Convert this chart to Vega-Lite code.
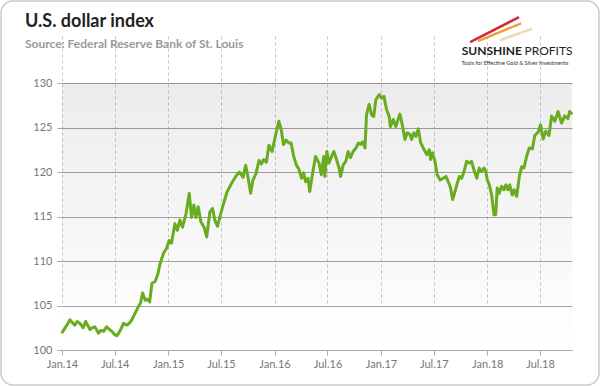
{
  "$schema": "https://vega.github.io/schema/vega-lite/v6.json",
  "width": 598,
  "height": 384,
  "padding": 1,
  "autosize": {"type": "none"},
  "background": "white",
  "config": {
    "view": {"stroke": "#cccccc", "strokeWidth": 1.5, "cornerRadius": 12, "fill": "white"},
    "font": "Lato"
  },
  "title": {
    "text": "U.S. dollar index",
    "subtitle": "Source: Federal Reserve Bank of St. Louis",
    "anchor": "start",
    "frame": "group",
    "orient": "top",
    "offset": -49,
    "dx": 24,
    "font": "Lato",
    "fontSize": 18,
    "fontWeight": "bold",
    "color": "#222222",
    "subtitleFont": "Lato",
    "subtitleFontSize": 12,
    "subtitleFontWeight": "bold",
    "subtitleColor": "#999999",
    "subtitlePadding": 8
  },
  "datasets": {
    "usd": [
      {"date": "2014-01-02", "value": 102.0},
      {"date": "2014-01-10", "value": 102.4},
      {"date": "2014-01-20", "value": 102.9},
      {"date": "2014-01-28", "value": 103.4},
      {"date": "2014-02-05", "value": 103.1},
      {"date": "2014-02-14", "value": 102.8},
      {"date": "2014-02-22", "value": 103.2},
      {"date": "2014-03-03", "value": 103.0},
      {"date": "2014-03-15", "value": 102.5},
      {"date": "2014-03-23", "value": 103.2},
      {"date": "2014-03-30", "value": 102.8},
      {"date": "2014-04-07", "value": 102.3},
      {"date": "2014-04-15", "value": 102.5},
      {"date": "2014-04-24", "value": 102.6},
      {"date": "2014-05-06", "value": 101.9},
      {"date": "2014-05-15", "value": 102.2},
      {"date": "2014-05-24", "value": 102.1},
      {"date": "2014-06-03", "value": 102.6},
      {"date": "2014-06-15", "value": 102.25},
      {"date": "2014-06-24", "value": 102.0},
      {"date": "2014-07-02", "value": 101.7},
      {"date": "2014-07-08", "value": 101.6},
      {"date": "2014-07-14", "value": 101.85},
      {"date": "2014-07-22", "value": 102.3},
      {"date": "2014-07-31", "value": 103.0},
      {"date": "2014-08-12", "value": 102.8},
      {"date": "2014-08-20", "value": 103.0},
      {"date": "2014-08-29", "value": 103.4},
      {"date": "2014-09-10", "value": 104.2},
      {"date": "2014-09-21", "value": 104.9},
      {"date": "2014-09-28", "value": 105.3},
      {"date": "2014-10-05", "value": 106.4},
      {"date": "2014-10-14", "value": 105.6},
      {"date": "2014-10-22", "value": 105.7},
      {"date": "2014-10-29", "value": 105.4},
      {"date": "2014-11-06", "value": 107.5},
      {"date": "2014-11-17", "value": 107.7},
      {"date": "2014-11-26", "value": 108.5},
      {"date": "2014-12-04", "value": 109.7},
      {"date": "2014-12-16", "value": 110.9},
      {"date": "2014-12-26", "value": 111.4},
      {"date": "2015-01-04", "value": 112.3},
      {"date": "2015-01-12", "value": 112.0},
      {"date": "2015-01-24", "value": 114.2},
      {"date": "2015-02-01", "value": 113.45},
      {"date": "2015-02-10", "value": 114.6},
      {"date": "2015-02-19", "value": 113.8},
      {"date": "2015-03-03", "value": 115.3},
      {"date": "2015-03-14", "value": 117.6},
      {"date": "2015-03-22", "value": 114.9},
      {"date": "2015-03-30", "value": 116.3},
      {"date": "2015-04-06", "value": 114.9},
      {"date": "2015-04-14", "value": 116.1},
      {"date": "2015-04-23", "value": 114.4},
      {"date": "2015-05-04", "value": 113.8},
      {"date": "2015-05-13", "value": 112.7},
      {"date": "2015-05-24", "value": 115.5},
      {"date": "2015-06-02", "value": 115.9},
      {"date": "2015-06-10", "value": 114.6},
      {"date": "2015-06-19", "value": 113.9},
      {"date": "2015-06-27", "value": 114.9},
      {"date": "2015-07-06", "value": 116.0},
      {"date": "2015-07-22", "value": 117.75},
      {"date": "2015-08-06", "value": 118.7},
      {"date": "2015-08-23", "value": 119.6},
      {"date": "2015-09-03", "value": 120.0},
      {"date": "2015-09-15", "value": 119.4},
      {"date": "2015-09-24", "value": 120.75},
      {"date": "2015-10-02", "value": 119.4},
      {"date": "2015-10-11", "value": 117.6},
      {"date": "2015-10-19", "value": 119.1},
      {"date": "2015-10-29", "value": 119.8},
      {"date": "2015-11-09", "value": 121.3},
      {"date": "2015-11-17", "value": 120.9},
      {"date": "2015-11-25", "value": 121.4},
      {"date": "2015-12-04", "value": 121.1},
      {"date": "2015-12-13", "value": 123.0},
      {"date": "2015-12-24", "value": 122.3},
      {"date": "2016-01-05", "value": 124.2},
      {"date": "2016-01-16", "value": 125.7},
      {"date": "2016-01-24", "value": 124.75},
      {"date": "2016-02-01", "value": 123.1},
      {"date": "2016-02-10", "value": 123.6},
      {"date": "2016-02-19", "value": 123.25},
      {"date": "2016-02-27", "value": 123.25},
      {"date": "2016-03-07", "value": 121.75},
      {"date": "2016-03-16", "value": 120.8},
      {"date": "2016-03-25", "value": 120.3},
      {"date": "2016-04-03", "value": 119.3},
      {"date": "2016-04-10", "value": 119.9},
      {"date": "2016-04-17", "value": 118.9},
      {"date": "2016-04-25", "value": 119.3},
      {"date": "2016-05-01", "value": 117.8},
      {"date": "2016-05-10", "value": 119.7},
      {"date": "2016-05-21", "value": 121.75},
      {"date": "2016-06-02", "value": 121.0},
      {"date": "2016-06-10", "value": 119.7},
      {"date": "2016-06-18", "value": 121.75},
      {"date": "2016-06-22", "value": 119.5},
      {"date": "2016-06-29", "value": 122.3},
      {"date": "2016-07-06", "value": 121.0},
      {"date": "2016-07-15", "value": 121.75},
      {"date": "2016-07-23", "value": 122.3},
      {"date": "2016-08-01", "value": 121.4},
      {"date": "2016-08-10", "value": 120.45},
      {"date": "2016-08-15", "value": 119.5},
      {"date": "2016-08-24", "value": 120.8},
      {"date": "2016-09-02", "value": 121.2},
      {"date": "2016-09-10", "value": 122.3},
      {"date": "2016-09-18", "value": 121.6},
      {"date": "2016-09-27", "value": 122.3},
      {"date": "2016-10-07", "value": 122.7},
      {"date": "2016-10-15", "value": 123.25},
      {"date": "2016-10-23", "value": 123.1},
      {"date": "2016-10-30", "value": 123.4},
      {"date": "2016-11-07", "value": 122.7},
      {"date": "2016-11-12", "value": 126.4},
      {"date": "2016-11-21", "value": 127.6},
      {"date": "2016-11-30", "value": 126.4},
      {"date": "2016-12-07", "value": 126.25},
      {"date": "2016-12-14", "value": 128.1},
      {"date": "2016-12-26", "value": 128.7},
      {"date": "2017-01-03", "value": 128.3},
      {"date": "2017-01-11", "value": 128.5},
      {"date": "2017-01-20", "value": 127.0},
      {"date": "2017-01-29", "value": 126.25},
      {"date": "2017-02-02", "value": 125.1},
      {"date": "2017-02-12", "value": 125.9},
      {"date": "2017-02-21", "value": 125.1},
      {"date": "2017-03-04", "value": 126.25},
      {"date": "2017-03-07", "value": 126.5},
      {"date": "2017-03-16", "value": 125.15},
      {"date": "2017-03-24", "value": 123.65},
      {"date": "2017-04-01", "value": 124.4},
      {"date": "2017-04-11", "value": 124.2},
      {"date": "2017-04-16", "value": 123.65},
      {"date": "2017-04-24", "value": 124.4},
      {"date": "2017-05-01", "value": 124.0},
      {"date": "2017-05-09", "value": 124.85},
      {"date": "2017-05-17", "value": 123.3},
      {"date": "2017-05-26", "value": 122.7},
      {"date": "2017-06-07", "value": 121.95},
      {"date": "2017-06-16", "value": 122.5},
      {"date": "2017-06-20", "value": 121.4},
      {"date": "2017-06-27", "value": 122.15},
      {"date": "2017-07-05", "value": 121.2},
      {"date": "2017-07-13", "value": 119.7},
      {"date": "2017-07-23", "value": 119.1},
      {"date": "2017-08-03", "value": 119.3},
      {"date": "2017-08-12", "value": 119.5},
      {"date": "2017-08-20", "value": 118.9},
      {"date": "2017-08-28", "value": 118.2},
      {"date": "2017-09-04", "value": 116.9},
      {"date": "2017-09-12", "value": 117.8},
      {"date": "2017-09-20", "value": 118.75},
      {"date": "2017-09-27", "value": 119.5},
      {"date": "2017-10-05", "value": 119.3},
      {"date": "2017-10-13", "value": 120.05},
      {"date": "2017-10-22", "value": 121.2},
      {"date": "2017-10-31", "value": 121.0},
      {"date": "2017-11-08", "value": 121.2},
      {"date": "2017-11-16", "value": 120.25},
      {"date": "2017-11-26", "value": 119.3},
      {"date": "2017-12-04", "value": 120.45},
      {"date": "2017-12-12", "value": 120.05},
      {"date": "2017-12-21", "value": 120.45},
      {"date": "2017-12-27", "value": 120.05},
      {"date": "2018-01-01", "value": 119.1},
      {"date": "2018-01-08", "value": 118.55},
      {"date": "2018-01-16", "value": 117.4},
      {"date": "2018-01-24", "value": 115.2},
      {"date": "2018-01-30", "value": 115.2},
      {"date": "2018-02-04", "value": 118.2},
      {"date": "2018-02-11", "value": 117.6},
      {"date": "2018-02-19", "value": 118.4},
      {"date": "2018-02-27", "value": 118.0},
      {"date": "2018-03-06", "value": 118.55},
      {"date": "2018-03-13", "value": 118.0},
      {"date": "2018-03-19", "value": 118.55},
      {"date": "2018-03-28", "value": 117.4},
      {"date": "2018-04-03", "value": 118.0},
      {"date": "2018-04-12", "value": 117.25},
      {"date": "2018-04-21", "value": 119.5},
      {"date": "2018-04-29", "value": 120.6},
      {"date": "2018-05-07", "value": 120.45},
      {"date": "2018-05-16", "value": 121.75},
      {"date": "2018-05-25", "value": 122.7},
      {"date": "2018-06-05", "value": 122.6},
      {"date": "2018-06-13", "value": 124.1},
      {"date": "2018-06-25", "value": 124.5},
      {"date": "2018-07-03", "value": 125.3},
      {"date": "2018-07-12", "value": 123.7},
      {"date": "2018-07-21", "value": 124.6},
      {"date": "2018-08-01", "value": 124.1},
      {"date": "2018-08-10", "value": 126.3},
      {"date": "2018-08-21", "value": 125.7},
      {"date": "2018-09-01", "value": 126.8},
      {"date": "2018-09-13", "value": 125.5},
      {"date": "2018-09-24", "value": 126.3},
      {"date": "2018-10-05", "value": 126.0},
      {"date": "2018-10-11", "value": 126.8},
      {"date": "2018-10-17", "value": 126.6}
    ]
  },
  "layer": [
    {
      "data": {"values": [{}]},
      "mark": {
        "type": "rect",
        "fill": {
          "gradient": "linear",
          "x1": 0, "y1": 0, "x2": 0, "y2": 1,
          "stops": [
            {"offset": 0, "color": "rgba(0,0,0,0.075)"},
            {"offset": 1, "color": "rgba(0,0,0,0)"}
          ]
        }
      },
      "encoding": {
        "x": {"datum": {"year": 2014, "month": 1, "date": 1}, "type": "temporal"},
        "x2": {"datum": {"year": 2018, "month": 10, "date": 19}},
        "y": {"datum": 130, "type": "quantitative"},
        "y2": {"datum": 100}
      }
    },
    {
      "data": {"name": "usd"},
      "mark": {"type": "line", "color": "#69ac1f", "strokeWidth": 3, "strokeJoin": "round", "strokeCap": "round"},
      "encoding": {
        "x": {
          "field": "date",
          "type": "temporal",
          "scale": {
            "domain": [{"year": 2014, "month": 1, "date": 1}, {"year": 2018, "month": 10, "date": 19}],
            "range": [61, 571],
            "nice": false
          },
          "axis": {
            "orient": "bottom",
            "offset": -35,
            "title": null,
            "format": "%b.%y",
            "labelFlush": false,
            "labelOverlap": false,
            "values": [
              {"year": 2014, "month": 1, "date": 1},
              {"year": 2014, "month": 7, "date": 1},
              {"year": 2015, "month": 1, "date": 1},
              {"year": 2015, "month": 7, "date": 1},
              {"year": 2016, "month": 1, "date": 1},
              {"year": 2016, "month": 7, "date": 1},
              {"year": 2017, "month": 1, "date": 1},
              {"year": 2017, "month": 7, "date": 1},
              {"year": 2018, "month": 1, "date": 1},
              {"year": 2018, "month": 7, "date": 1}
            ],
            "grid": true,
            "gridDash": [3, 3],
            "gridColor": "#c4c4c4",
            "gridWidth": 1,
            "domainColor": "#aaaaaa",
            "tickColor": "#aaaaaa",
            "tickSize": 5,
            "labelColor": "#777777",
            "labelFont": "Lato",
            "labelFontSize": 11,
            "labelPadding": 3
          }
        },
        "y": {
          "field": "value",
          "type": "quantitative",
          "scale": {"domain": [100, 130], "range": [349, 82], "zero": false, "nice": false},
          "axis": {
            "orient": "left",
            "offset": -61,
            "title": null,
            "values": [100, 105, 110, 115, 120, 125, 130],
            "grid": true,
            "gridColor": "#a3a3a3",
            "gridWidth": 1,
            "domain": false,
            "tickColor": "#aaaaaa",
            "tickSize": 5,
            "labelColor": "#777777",
            "labelFont": "Lato",
            "labelFontSize": 11,
            "labelPadding": 5
          }
        }
      }
    },
    {
      "data": {"values": [{}]},
      "mark": {"type": "rule", "color": "#d4283a", "strokeWidth": 2.5},
      "encoding": {
        "x": {"datum": {"year": 2017, "month": 11, "date": 3}, "type": "temporal"},
        "y": {"datum": 134.6, "type": "quantitative"},
        "x2": {"datum": {"year": 2018, "month": 4, "date": 20}},
        "y2": {"datum": 137.4}
      }
    },
    {
      "data": {"values": [{}]},
      "mark": {"type": "rule", "color": "#e8a23a", "strokeWidth": 2.5},
      "encoding": {
        "x": {"datum": {"year": 2017, "month": 11, "date": 30}, "type": "temporal"},
        "y": {"datum": 134.7, "type": "quantitative"},
        "x2": {"datum": {"year": 2018, "month": 4, "date": 27}},
        "y2": {"datum": 136.7}
      }
    },
    {
      "data": {"values": [{}]},
      "mark": {"type": "rule", "color": "#ecdcb4", "strokeWidth": 2.5},
      "encoding": {
        "x": {"datum": {"year": 2018, "month": 2, "date": 14}, "type": "temporal"},
        "y": {"datum": 134.8, "type": "quantitative"},
        "x2": {"datum": {"year": 2018, "month": 6, "date": 4}},
        "y2": {"datum": 136.1}
      }
    },
    {
      "data": {"values": [{}]},
      "mark": {"type": "text", "text": "SUNSHINE", "align": "right", "baseline": "alphabetic", "font": "Lato", "fontWeight": "bold", "fontSize": 12, "color": "#222222"},
      "encoding": {
        "x": {"datum": {"year": 2018, "month": 4, "date": 30}, "type": "temporal"},
        "y": {"datum": 133.1, "type": "quantitative"}
      }
    },
    {
      "data": {"values": [{}]},
      "mark": {"type": "text", "text": "PROFITS", "align": "left", "baseline": "alphabetic", "font": "Lato", "fontWeight": "normal", "fontSize": 12, "color": "#222222"},
      "encoding": {
        "x": {"datum": {"year": 2018, "month": 5, "date": 9}, "type": "temporal"},
        "y": {"datum": 133.1, "type": "quantitative"}
      }
    },
    {
      "data": {"values": [{}]},
      "mark": {"type": "text", "text": "Tools for Effective Gold & Silver Investments", "align": "center", "baseline": "middle", "font": "Lato", "fontSize": 5.5, "color": "#333333"},
      "encoding": {
        "x": {"datum": {"year": 2018, "month": 4, "date": 6}, "type": "temporal"},
        "y": {"datum": 132.3, "type": "quantitative"}
      }
    }
  ]
}
